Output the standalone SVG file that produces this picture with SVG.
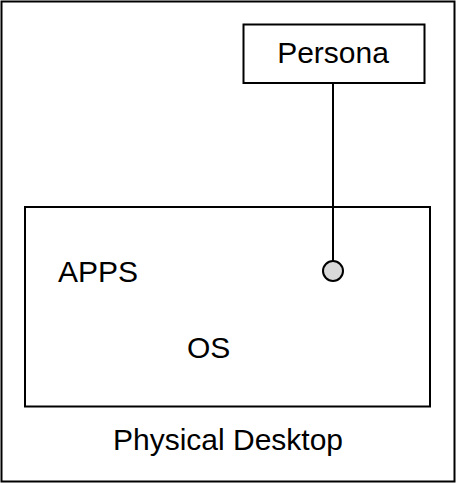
<svg xmlns="http://www.w3.org/2000/svg" width="456" height="483" viewBox="0 0 456 483">
<style>
.box{fill:#fff;stroke:#000;stroke-width:2}
.lbl{font-family:"Liberation Sans",Arial,sans-serif;font-size:30px;fill:#000}
.conn{stroke:#000;stroke-width:2;fill:none}
</style>
<g id="physical-desktop">
<rect class="box" x="1.5" y="1.5" width="453" height="480"/>
<text class="lbl" x="228" y="450" text-anchor="middle" font-size="31">Physical Desktop</text>
</g>
<g id="inner">
<rect class="box" x="25" y="207" width="405" height="199.5"/>
<text class="lbl" x="58" y="282" font-size="29">APPS</text>
<text class="lbl" x="187" y="358" font-size="29">OS</text>
</g>
<g id="persona">
<rect class="box" x="243.5" y="24.5" width="181" height="58.5"/>
<text class="lbl" x="333" y="63" text-anchor="middle">Persona</text>
</g>
<g id="connectors">
<line class="conn" x1="333" y1="83" x2="333" y2="261"/>
<circle cx="333" cy="271" r="10" fill="#d9d9d9" stroke="#000" stroke-width="2"/>
</g>
</svg>
